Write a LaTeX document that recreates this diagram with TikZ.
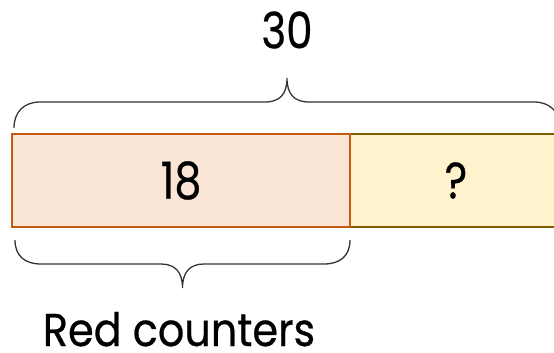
\documentclass[tikz,border=0pt]{standalone}
\usepackage{fontspec}
\setmainfont{Poppins}[UprightFeatures={FakeBold=0.6}]
\usetikzlibrary{positioning}

\definecolor{redfill}{HTML}{FBE5D6}
\definecolor{reddraw}{HTML}{C55A11}
\definecolor{qfill}{HTML}{FFF2CC}
\definecolor{qdraw}{HTML}{7F6000}

\newcommand{\narrow}[2][0.84]{\scalebox{#1}[1]{#2}}

\begin{document}
\begin{tikzpicture}[x=1pt, y=-1pt,
    part/.style={rectangle, inner sep=0pt, outer sep=0pt, minimum height=93pt,
                 font=\fontsize{51}{51}\selectfont},
    redpart/.style={part, draw=reddraw, fill=redfill, line width=2.7pt, minimum width=338pt},
    qpart/.style={part, draw=qdraw, fill=qfill, line width=2pt, minimum width=212pt},
    label/.style={inner sep=0pt, font=\fontsize{50}{50}\selectfont},
    bracket/.style={draw=black!80, line width=1.3pt}]
    \useasboundingbox (0,0) rectangle (554,353);

    % Nodes {rest, red, total, name}
    \node [qpart]                    (rest) at (456,180.5) {\narrow{?}};
    \node [redpart, left=0pt of rest] (red)                {\narrow{18}};
    \node [label]                    (total) at (287,30)   {\narrow{30}};
    \node [label, anchor=base, font=\fontsize{46}{46}\selectfont]
                                     (name) at (179,346) {\narrow[0.9]{Red counters}};

    % Braces
    \draw [bracket] (14,128) .. controls (14,112) and (24,102) .. (40,102) -- (265,102)
        .. controls (280,102) and (287,94) .. (287,78)
        .. controls (287,94) and (294,102) .. (309,102) -- (534,102)
        .. controls (550,102) and (560,112) .. (560,128);
    \draw [bracket] (15,240) .. controls (15,256) and (25,264) .. (41,264) -- (161,264)
        .. controls (175,264) and (182.5,272) .. (182.5,288)
        .. controls (182.5,272) and (190,264) .. (204,264) -- (324,264)
        .. controls (340,264) and (350,256) .. (350,240);
\end{tikzpicture}
\end{document}
